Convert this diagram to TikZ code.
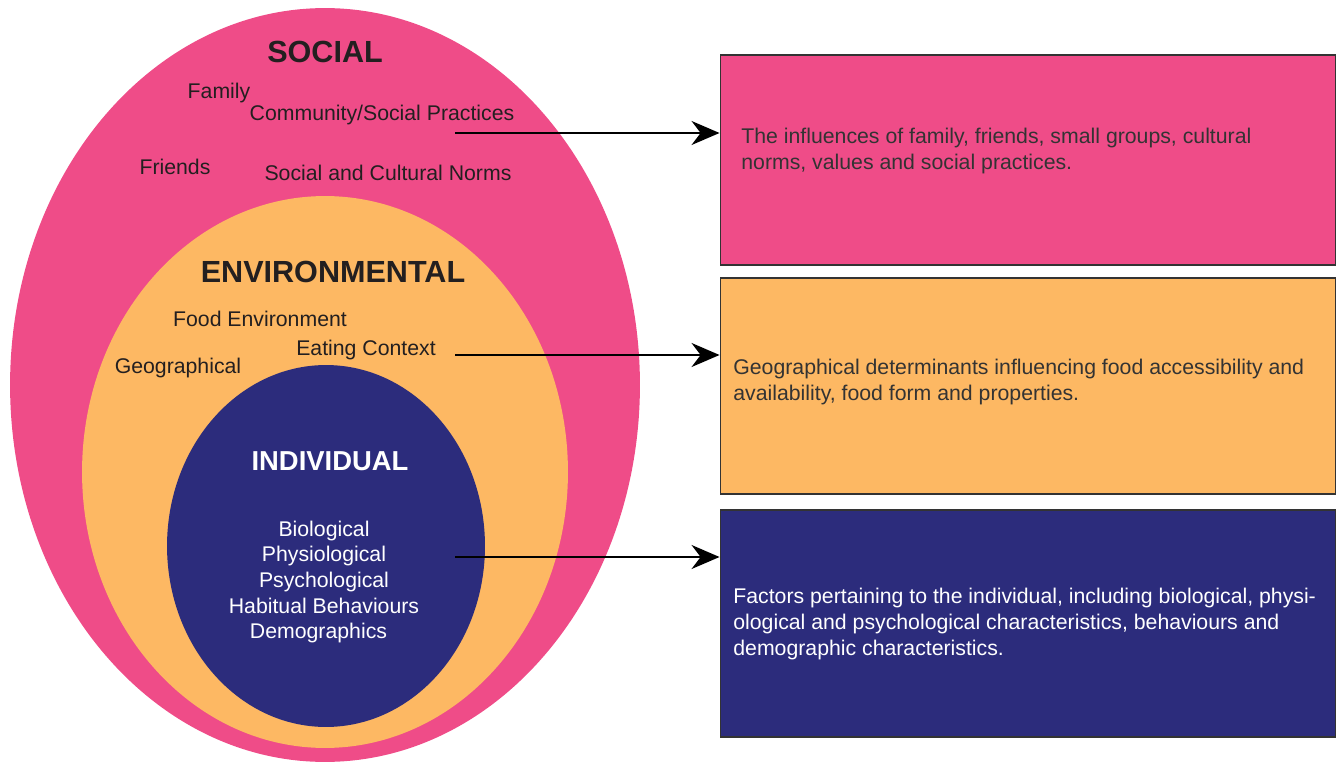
\documentclass[tikz,border=0pt]{standalone}
\usepackage{fontspec}
\setmainfont{Liberation Sans}
\usepackage{tikz}
\usetikzlibrary{shapes.geometric, positioning, arrows.meta}
\definecolor{socialPink}{RGB}{239, 76, 136}
\definecolor{envOrange}{RGB}{253, 184, 99}
\definecolor{indivNavy}{RGB}{44, 44, 124}
\definecolor{inkColor}{RGB}{35, 31, 32}
\definecolor{boxText}{RGB}{51, 51, 51}
\tikzset{
    ring/.style={
        ellipse,
        draw=none,
        inner sep=0pt
    },
    ring_title/.style={
        font=\fontsize{17.4}{20}\selectfont\bfseries,
        text=inkColor,
        inner sep=0pt
    },
    ring_label/.style={
        font=\fontsize{12.1}{14.6}\selectfont,
        text=inkColor,
        inner sep=0pt
    },
    info_box/.style={
        rectangle,
        draw=black!80,
        line width=0.6pt,
        minimum width=12.32cm,
        inner sep=0pt
    },
    info_text/.style={
        font=\fontsize{12.1}{14.7}\selectfont,
        text=boxText,
        align=left,
        anchor=west,
        inner sep=0pt
    },
    link/.style={
        -{Stealth[length=0.56cm, width=0.48cm]},
        line width=1.1pt,
        draw=black
    }
}
\begin{document}
\begin{tikzpicture}[x=0.02cm, y=-0.02cm]
    \useasboundingbox (0,0) rectangle (1338,763);

    % nested rings
    \node[ring, fill=socialPink, minimum width=12.6cm, minimum height=15.08cm] (social) at (325,385) {};
    \node[ring, fill=envOrange, minimum width=9.72cm, minimum height=11.04cm] (env) at (325,472) {};
    \node[ring, fill=indivNavy, minimum width=6.36cm, minimum height=7.24cm] (indiv) at (326,546) {};

    % social ring
    \node[ring_title] (socialTitle) at (325,52) {SOCIAL};
    \node[ring_label] (family) at (219,93) {Family};
    \node[ring_label] (community) at (382,115) {Community/Social Practices};
    \node[ring_label] (friends) at (175,167) {Friends};
    \node[ring_label] (norms) at (388,173) {Social and Cultural Norms};

    % environmental ring
    \node[ring_title] (envTitle) at (333,272) {ENVIRONMENTAL};
    \node[ring_label] (foodEnv) at (260,319) {Food Environment};
    \node[ring_label] (eating) at (366,350) {Eating Context};
    \node[ring_label] (geo) at (178,368) {Geographical};

    % individual ring
    \node[ring_title, text=white, font=\fontsize{15.6}{18}\selectfont\bfseries] (indivTitle) at (330,461) {INDIVIDUAL};
    \node[ring_label, text=white, align=center] (indivList) at (324,582)
        {Biological\\Physiological\\Psychological\\Habitual Behaviours\\Demographics\hspace*{0.22cm}};

    % description boxes
    \node[info_box, fill=socialPink, minimum height=4.2cm] (socialBox) at (1028,160) {};
    \node[info_box, fill=envOrange, minimum height=4.32cm] (envBox) at (1028,386) {};
    \node[info_box, fill=indivNavy, minimum height=4.54cm] (indivBox) at (1028,623.5) {};

    \node[info_text] (socialDesc) at (741,151)
        {The influences of family, friends, small groups, cultural\\norms, values and social practices.};
    \node[info_text] (envDesc) at (733,382)
        {Geographical determinants influencing food accessibility and\\availability, food form and properties.};
    \node[info_text, text=white] (indivDesc) at (733,624)
        {Factors pertaining to the individual, including biological, physi-\\ological and psychological characteristics, behaviours and\\demographic characteristics.};

    % connectors
    \coordinate (socialTail) at (455,133);
    \coordinate (envTail) at (455,355);
    \coordinate (indivTail) at (455,557);
    \draw[link] (socialTail) -- (socialTail -| socialBox.west);
    \draw[link] (envTail) -- (envTail -| envBox.west);
    \draw[link] (indivTail) -- (indivTail -| indivBox.west);
\end{tikzpicture}
\end{document}
